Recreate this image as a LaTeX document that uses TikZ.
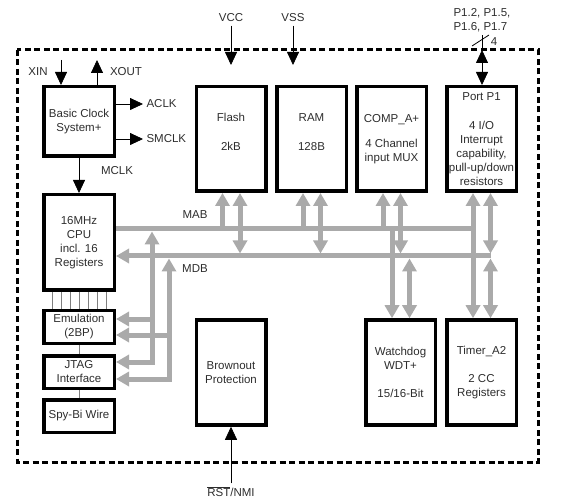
\documentclass[tikz,border=0pt]{standalone}
\usepackage{fontspec}
\setmainfont{Liberation Sans}
\usetikzlibrary{positioning,arrows.meta}
\definecolor{busgray}{RGB}{170,170,170}
\definecolor{ink}{RGB}{45,45,45}

\begin{document}
\begin{tikzpicture}[x=1pt,y=-1pt,font=\fontsize{11.5}{14}\selectfont,text=ink,
        block/.style={rectangle,draw=black,line width=3.5pt,minimum width=69.5pt,minimum height=105pt,align=center,inner sep=1pt},
        side/.style={block,minimum width=70.5pt,minimum height=32.5pt},
        sig/.style={draw=black,line width=0.8pt,>={Triangle[length=13pt,width=12pt]}},
        bus/.style={draw=busgray,line width=5pt,>={Triangle[length=13pt,width=14pt]}}]
    \useasboundingbox (0,0) rectangle (567,502);
    \draw[line width=3pt,dash pattern=on 6pt off 3.5pt] (17,50) rectangle (538,462);

    % left column
    \node[side,minimum height=69.5pt] (clk) at (79,121.5) {Basic Clock\\System+};
    \node[side,minimum height=95.5pt] (cpu) at (79,242.5) {16MHz\\CPU\\incl. 16\\Registers};
    \node[side] (emu) at (79,327) {Emulation\\(2BP)};
    \node[side,below=9pt of emu] (jtag) {JTAG\\Interface};
    \node[side,below=8pt of jtag] (sbw) {Spy-Bi Wire};

    % peripherals
    \node[block,minimum height=104.5pt] (flash) at (231,139) {Flash\\[15pt]2kB\\\mbox{}};
    \node[block,minimum height=104.5pt] (ram) at (311.5,139) {RAM\\[15pt]128B\\\mbox{}};
    \node[block,minimum height=104.5pt] (comp) at (391.5,139) {COMP\_A+\\[11pt]4 Channel\\input MUX};
    \node[block,minimum height=104.5pt] (port) at (481.5,139) {Port P1\\[15pt]4 I/O\\Interrupt\\capability,\\pull-up/down\\resistors};
    \node[block] (brown) at (231,372.5) {Brownout\\Protection};
    \node[block] (wdt) at (400.5,372.5) {Watchdog\\WDT+\\[14pt]15/16-Bit};
    \node[block] (timer) at (481.5,372.5) {Timer\_A2\\[14pt]2 CC\\Registers};

    % labels
    \node (xin) at (38,72) {XIN};
    \node (xout) at (126,72) {XOUT};
    \node[anchor=west] (aclk) at (143,104) {ACLK};
    \node[anchor=west] (smclk) at (143,139) {SMCLK};
    \node (mclk) at (117,171) {MCLK};
    \node (vcc) at (231,18) {VCC};
    \node (vss) at (293,18) {VSS};
    \node (mab) at (195,215) {MAB};
    \node (mdb) at (195,269) {MDB};
    \node[align=left,anchor=west] (pins) at (450,20) {P1.2, P1.5,\\P1.6, P1.7};
    \node (four) at (494,42) {4};
    \node (rst) at (231,492) {$\overline{\mbox{RST}}$/NMI};

    % clock and supply signals
    \coordinate (xinT) at (61,60);
    \coordinate (xoutT) at (97,60);
    \coordinate (pwr) at (0,65);
    \coordinate (pin) at (482,50);
    \draw[sig,->] (xinT) -- (xinT |- clk.north);
    \draw[sig,->] (xoutT |- clk.north) -- (xoutT);
    \draw[sig,->] (clk.east |- aclk) -- (aclk.west);
    \draw[sig,->] (clk.east |- smclk) -- (smclk.west);
    \draw[sig,->] (clk.south) -- (cpu.north);
    \draw[sig,->] (vcc.south) -- (vcc.south |- pwr);
    \draw[sig,->] (vss.south) -- (vss.south |- pwr);
    \draw[sig,->] (rst.north) -- (brown.south);
    \draw[sig,<->] (pin) -- (pin |- port.north);
    \draw[sig] (pins.south -| pin) -- (pin);
    \draw[sig] ([shift={(-10,-4)}]pin) -- ([shift={(7,-15)}]pin);

    % debug links
    \foreach \i in {0,...,6}
        \draw[gray,thin] ([xshift=-27pt+9pt*\i]cpu.south) -- ([xshift=-27pt+9pt*\i]emu.north);
    \draw[gray,thin] (emu.south) -- (jtag.north);
    \draw[gray,thin] (jtag.south) -- (sbw.north);

    % buses
    \coordinate (mabE) at (473,229);
    \coordinate (mdbE) at (491,256);
    \coordinate (adr) at (152,362);
    \coordinate (dat) at (169,379);
    \path ([yshift=8pt]emu.east) coordinate (ea) ([yshift=-8pt]emu.east) coordinate (eb);
    \draw[bus] (cpu.east |- mabE) -- (mabE);
    \draw[bus,->] (mdbE) -- (cpu.east |- mdbE);
    \draw[bus,<->,shorten >=2.5pt] (adr -| jtag.east) -- (adr) -- (adr |- mabE);
    \draw[bus,<->,shorten >=2.5pt] (dat -| jtag.east) -- (dat) -- (dat |- mdbE);
    \draw[bus,->] (ea -| adr) -- (ea);
    \draw[bus,->] (eb -| dat) -- (eb);
    \foreach \n in {flash,ram,comp} {
        \draw[bus,->] ([xshift=-8.5pt]\n.south |- mabE) -- ([xshift=-8.5pt]\n.south);
        \draw[bus,<->,shorten >=2.5pt] ([xshift=9pt]\n.south) -- ([xshift=9pt]\n.south |- mdbE);
    }
    \draw[bus,->] ([xshift=-8.5pt]wdt.north |- mabE) -- ([xshift=-8.5pt]wdt.north);
    \draw[bus,<->,shorten <=2.5pt] ([xshift=9pt]wdt.north |- mdbE) -- ([xshift=9pt]wdt.north);
    \draw[bus,<->] ([xshift=-8.5pt]port.south) -- ([xshift=-8.5pt]timer.north);
    \draw[bus,<->,shorten >=2.5pt] ([xshift=9pt]port.south) -- ([xshift=9pt]port.south |- mdbE);
    \draw[bus,<->,shorten <=2.5pt] ([xshift=9pt]timer.north |- mdbE) -- ([xshift=9pt]timer.north);
\end{tikzpicture}
\end{document}
